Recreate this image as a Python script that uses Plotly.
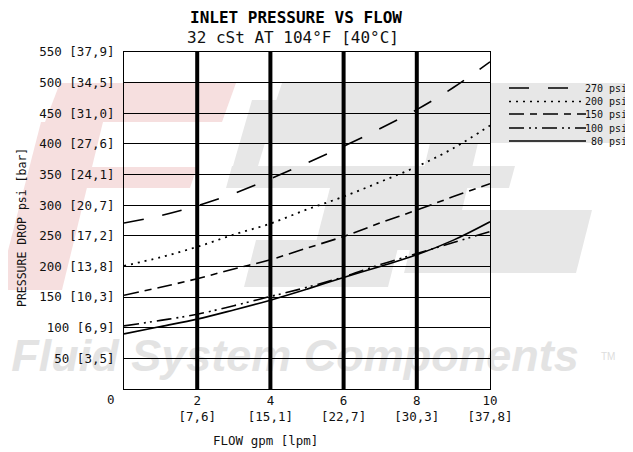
import plotly.graph_objects as go

# ---- data ----
flow_gpm = [0, 1, 2, 3, 4, 5, 6, 7, 8, 9, 10]
p270 = [271, 283, 299, 319, 343, 369, 396, 425, 456, 492, 534]
p200 = [201, 215, 232, 252, 270, 293, 314, 338, 363, 393, 430]
p150 = [153, 166, 180, 196, 211, 230, 249, 271, 292, 314, 335]
p100 = [103, 112, 122, 136, 151, 166, 183, 203, 221, 239, 257]
p80 = [90, 102, 114, 129, 145, 163, 182, 200, 219, 243, 273]

series_names = ["270 psi", "200 psi", "150 psi", "100 psi", "80 psi"]
series_values = [p270, p200, p150, p100, p80]
series_dash = ["20px,19px", "2px,5px", "15px,6px,7px,6px", "15px,5px,2px,4px,2px,5px", "solid"]
series_width = [1.6, 1.8, 1.6, 1.6, 1.6]

y_tickvals = [50, 100, 150, 200, 250, 300, 350, 400, 450, 500, 550]
y_ticktext = ["50 [3,5]", "100 [6,9]", "150 [10,3]", "200 [13,8]", "250 [17,2]", "300 [20,7]",
              "350 [24,1]", "400 [27,6]", "450 [31,0]", "500 [34,5]", "550 [37,9]"]
x_tickvals = [2, 4, 6, 8, 10]
x_ticktext = ["2<br>[7,6]", "4<br>[15,1]", "6<br>[22,7]", "8<br>[30,3]", "10<br>[37,8]"]
thick_x = [2, 4, 6, 8]

# page offset (body margin) compensation: figure occupies page pixels 8..633 x 8..452
OFF = 8
W, H = 633 - OFF, 452 - OFF
PL, PR, PT, PB = 124, 490, 52, 389          # plot box in page pixels
L, R, T, B = PL - OFF, 633 - PR, PT - OFF, 452 - PB
PW, PH = PR - PL, PB - PT


def px(x):
    return (x - PL) / PW


def py(y):
    return (PB - y) / PH


def path(points):
    s = "M " + " L ".join(f"{px(a):.4f},{py(b):.4f}" for a, b in points) + " Z"
    return s


MONO = "DejaVu Sans Mono"
fig = go.Figure()

for name, vals, dash, w in zip(series_names, series_values, series_dash, series_width):
    fig.add_trace(go.Scatter(x=flow_gpm, y=vals, mode="lines", name=name,
                             line=dict(color="black", width=w, dash=dash, shape="spline"),
                             showlegend=False))

shapes = []
# watermark (decorative)
pink = "#f6dfdf"
gray = "#e7e7e7"
pink_polys = [
    [(60, 83), (236, 83), (222, 122), (45, 122)],
    [(41, 122), (103, 122), (62, 290), (-2, 290)],
    [(45, 167), (197, 167), (190, 188), (38, 188)],
]
gray_polys = [
    [(282, 83), (633, 83), (633, 143), (262, 143)],
    [(252, 100), (278, 100), (258, 166), (233, 166)],
    [(232, 166), (515, 166), (509, 188), (226, 188)],
    [(330, 188), (430, 188), (414, 250), (314, 250)],
    [(256, 240), (400, 240), (388, 287), (244, 287)],
    [(430, 143), (478, 143), (462, 210), (414, 210)],
    [(420, 210), (592, 210), (576, 273), (404, 273)],
]
for poly in pink_polys:
    shapes.append(dict(type="path", xref="paper", yref="paper", path=path(poly),
                       fillcolor=pink, line=dict(width=0), layer="below"))
for poly in gray_polys:
    shapes.append(dict(type="path", xref="paper", yref="paper", path=path(poly),
                       fillcolor=gray, line=dict(width=0), layer="below"))
shapes.append(dict(type="rect", xref="paper", yref="paper",
                   x0=px(10), x1=px(580), y0=py(385), y1=py(318),
                   fillcolor="rgba(0,0,0,0)", line=dict(width=0), layer="below",
                   label=dict(text="Fluid System Components", textposition="middle center",
                              font=dict(family="Liberation Sans", size=45, color="#e3e3e3",
                                        weight="bold", style="italic"))))

# thick vertical grid lines
for xv in thick_x:
    shapes.append(dict(type="line", xref="x", yref="y", x0=xv, x1=xv, y0=0, y1=550,
                       line=dict(color="black", width=4), layer="between"))

# legend samples
leg_y = [88, 101.5, 114, 128, 141]
for yv, dash, w in zip(leg_y, series_dash, series_width):
    shapes.append(dict(type="line", xref="paper", yref="paper", x0=px(509), x1=px(586),
                       y0=py(yv), y1=py(yv), line=dict(color="black", width=1.3, dash=dash)))


def ann(text, x, y, size, family=MONO, color="#111", xanchor="center", **kw):
    return dict(text=text, x=px(x), y=py(y), xref="paper", yref="paper", showarrow=False,
                xanchor=xanchor, yanchor="middle",
                font=dict(family=family, size=size, color=color), **kw)


annotations = [
    ann("<b>INLET PRESSURE VS FLOW</b>", 296, 17, 16, color="black"),
    ann("32 cSt AT 104°F [40°C]", 293, 38, 16),
    ann("PRESSURE DROP psi [bar]", 22, 228, 11.5, textangle=-90),
    ann("FLOW gpm [lpm]", 265, 440, 12.5),
    ann("0", 111, 400, 12.5),
    ann("TM", 608, 356, 10, family="Liberation Sans", color="#dddddd"),
]
for yv, name in zip(leg_y, series_names):
    annotations.append(ann(name, 629, yv, 10, xanchor="right"))

fig.update_layout(
    width=W, height=H,
    margin=dict(l=L, r=R, t=T, b=B, pad=0, autoexpand=False),
    paper_bgcolor="white", plot_bgcolor="rgba(0,0,0,0)",
    shapes=shapes, annotations=annotations,
    xaxis=dict(range=[0, 10], tickvals=x_tickvals, ticktext=x_ticktext, showgrid=False,
               zeroline=False, showline=True, mirror=True, linecolor="black", linewidth=1,
               ticks="", ticklabelstandoff=0, automargin=False,
               tickfont=dict(family=MONO, size=12.5, color="#111")),
    yaxis=dict(range=[0, 550], tickvals=y_tickvals, ticktext=y_ticktext, showgrid=True,
               gridcolor="black", gridwidth=1, zeroline=False, showline=True, mirror=True,
               linecolor="black", linewidth=1, ticks="", ticklabelstandoff=6, automargin=False,
               tickfont=dict(family=MONO, size=12.5, color="#111")),
)

fig.write_html("out.html")
